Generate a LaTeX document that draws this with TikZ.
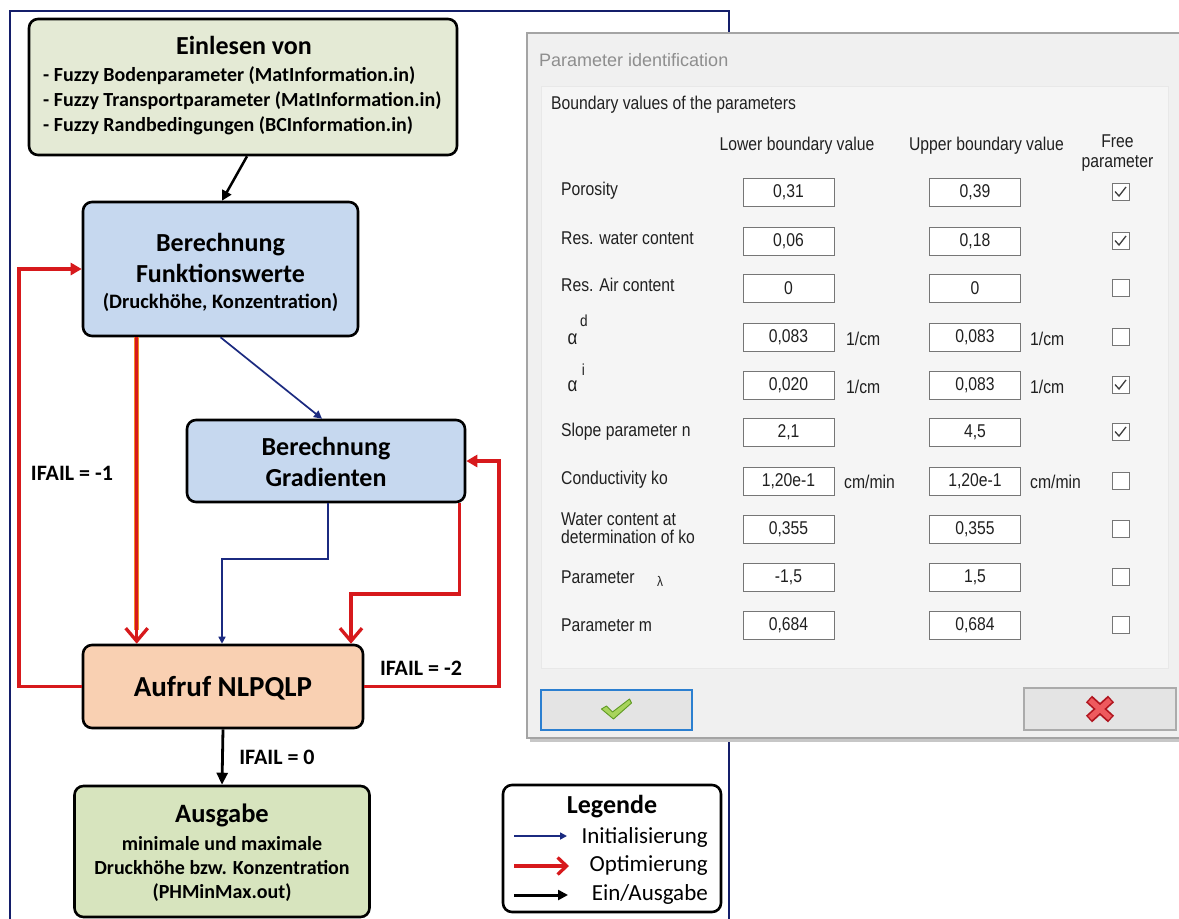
\documentclass[tikz,border=0pt]{standalone}
\usepackage{fontspec}
\setmainfont{Carlito}
\newfontfamily\dlgfont[FakeStretch=0.85]{Liberation Sans}
\newfontfamily\dlgtitlefont{Liberation Sans}
\usetikzlibrary{arrows.meta}
\newcommand{\dcomma}{,}
\newcommand{\setfs}[2]{\fontsize{#1}{#2}\selectfont}

\definecolor{navy}{HTML}{1B2A80}
\definecolor{framenavy}{HTML}{141E6A}
\definecolor{optred}{HTML}{D7191C}
\definecolor{optorange}{HTML}{F08A24}
\definecolor{inbox}{HTML}{E4EAD5}
\definecolor{outbox}{HTML}{D7E4BE}
\definecolor{calcbox}{HTML}{C6D8EF}
\definecolor{nlpbox}{HTML}{F9D0B2}
\definecolor{dlgbg}{HTML}{F0F0F0}
\definecolor{dlgpanel}{HTML}{F5F5F5}
\definecolor{dlgline}{HTML}{A4A4A4}
\definecolor{dlgtext}{HTML}{202020}
\definecolor{dlgtitle}{HTML}{8E8E8E}
\definecolor{fieldline}{HTML}{767676}
\definecolor{okblue}{HTML}{2B7FD0}
\definecolor{btnfill}{HTML}{E4E4E4}
\definecolor{btnline}{HTML}{ABABAB}
\definecolor{okgreen}{HTML}{A8D45C}
\definecolor{okgreendark}{HTML}{5E9A22}
\definecolor{xred}{HTML}{EE5A5E}
\definecolor{xreddark}{HTML}{B0141E}

\tikzset{
  flowbox/.style={draw=black, line width=2.6pt, rounded corners=9pt, inner sep=0pt},
  ftext/.style={inner sep=0pt, align=center, text=black},
  frameline/.style={draw=framenavy, line width=2pt},
  init/.style={draw=navy, line width=1.7pt, -{Triangle[length=8pt,width=8pt]}},
  opt/.style={draw=optred, line width=3.3pt},
  optdown/.style={opt, -{Straight Barb[length=13pt,width=22pt]}},
  optside/.style={opt, -{Triangle[length=11pt,width=12pt]}},
  optglow/.style={draw=optorange, line width=4.6pt},
  io/.style={draw=black, line width=2.8pt, -{Triangle[length=12pt,width=11pt]}},
  lbl/.style={inner sep=0pt, anchor=west, text=dlgtext, font=\dlgfont\setfs{18.5}{19}},
  hdr/.style={inner sep=0pt, align=center, text=dlgtext, font=\dlgfont\setfs{18.5}{20}},
  valbox/.style={draw=fieldline, line width=0.9pt, fill=white, minimum width=91pt,
    minimum height=28pt, inner sep=0pt, text=dlgtext, font=\dlgfont\setfs{18.5}{19}},
  unit/.style={inner sep=0pt, anchor=west, text=dlgtext, font=\dlgfont\setfs{18.5}{19}},
  chkbox/.style={draw=fieldline, line width=1pt, fill=white, minimum width=17pt,
    minimum height=17pt, inner sep=0pt},
  chkmark/.style={draw=black!75, line width=1.3pt},
}

\begin{document}
\begin{tikzpicture}[x=1pt,y=-1pt]
\useasboundingbox (0,0) rectangle (1179,919);
\fill[white] (0,0) rectangle (1179,919);

% ---------- flowchart frame ----------
\draw[frameline] (10,921) -- (10,11) -- (729,11) -- (729,921);

% ---------- flowchart boxes ----------
\node[flowbox, fill=inbox, minimum width=428pt, minimum height=136pt] (ein) at (243,87) {};
\node[ftext, font=\setfs{26}{30}\bfseries] (eintitle) at (244,45) {Einlesen von};
\node[ftext, align=left, anchor=west, font=\setfs{20}{25}\bfseries] (einlist) at (43,101)
  {- Fuzzy Bodenparameter (MatInformation.in)\\- Fuzzy Transportparameter (MatInformation.in)\\- Fuzzy Randbedingungen (BCInformation.in)};

\node[flowbox, fill=calcbox, minimum width=275pt, minimum height=134pt] (fkt) at (220.5,269) {};
\node[ftext, font=\setfs{26}{31}\bfseries] (fkttitle) at (220.5,258) {Berechnung\\Funktionswerte};
\node[ftext, font=\setfs{20.5}{24}\bfseries] (fktsub) at (220.5,302) {(Druckhöhe, Konzentration)};

\node[flowbox, fill=calcbox, minimum width=278pt, minimum height=82pt] (grad) at (326,461) {};
\node[ftext, font=\setfs{26}{31}\bfseries] (gradtext) at (326,462) {Berechnung\\Gradienten};

\node[flowbox, fill=nlpbox, minimum width=280pt, minimum height=83pt] (nlp) at (223,686.5) {};
\node[ftext, font=\setfs{29}{34}\bfseries] (nlptext) at (223,688) {Aufruf NLPQLP};

\node[flowbox, fill=outbox, minimum width=295pt, minimum height=131pt] (aus) at (222,851.5) {};
\node[ftext, font=\setfs{26.5}{30}\bfseries] (austitle) at (222,815) {Ausgabe};
\node[ftext, font=\setfs{20}{24}\bfseries] (austext) at (222,869)
  {minimale und maximale\\Druckhöhe bzw. Konzentration\\(PHMinMax.out)};

% ---------- labels on connectors ----------
\node[ftext, font=\setfs{22}{24}\bfseries] (fail1) at (72,473) {IFAIL = -1};
\node[ftext, font=\setfs{22}{24}\bfseries] (fail2) at (421,668) {IFAIL = -2};
\node[ftext, font=\setfs{22}{24}\bfseries] (fail0) at (277,757) {IFAIL = 0};

% ---------- connectors ----------
\draw[io, line width=2.5pt, -{Triangle[length=10pt,width=10pt]}] ([xshift=4pt]ein.south) -- ([xshift=1.5pt]fkt.north);
\draw[init] (fkt.south) -- ([xshift=-4pt]grad.north);

\coordinate (bj) at (222,559);
\draw[init, line width=1.5pt, -{Triangle[length=7pt,width=7pt]}] ([xshift=2pt]grad.south) |- (bj) -- (bj |- nlp.north);

\coordinate (fd) at ([xshift=55pt]fkt.south west);
\draw[optglow] (fd) -- ([yshift=14pt]fd |- nlp.north);
\draw[optdown] (fd) -- (fd |- nlp.north);

\coordinate (rj) at (351,594);
\draw[optdown] ([xshift=-7pt]grad.south east) |- (rj) -- (rj |- nlp.north);

\coordinate (lx) at (19,0);
\draw[optside] (nlp.west) -- (nlp.west -| lx) |- (fkt.west);

\coordinate (rx) at (499,0);
\draw[optside] (nlp.east) -- (nlp.east -| rx) |- (grad.east);

\draw[io] (nlp.south) -- (aus.north);

% ---------- legend ----------
\node[flowbox, fill=white, minimum width=218pt, minimum height=127pt] (leg) at (612,848.5) {};
\node[ftext, font=\setfs{26}{30}\bfseries] (legtitle) at (612,807) {Legende};
\node[ftext, anchor=east, font=\setfs{23}{26}] (leg1) at (708,837) {Initialisierung};
\node[ftext, anchor=east, font=\setfs{23}{26}] (leg2) at (708,866) {Optimierung};
\node[ftext, anchor=east, font=\setfs{23}{26}] (leg3) at (708,894) {Ein/Ausgabe};
\coordinate (la1) at (514,836); \coordinate (lb1) at (567,836);
\coordinate (la2) at (514,866); \coordinate (lb2) at (569,866);
\coordinate (la3) at (514,895); \coordinate (lb3) at (568,895);
\draw[init, line width=1.6pt, -{Triangle[length=7pt,width=7pt]}] (la1) -- (lb1);
\draw[opt, -{Straight Barb[length=9pt,width=17pt]}] (la2) -- (lb2);
\draw[io, line width=3pt, -{Triangle[length=10pt,width=10pt]}] (la3) -- (lb3);

% ---------- parameter dialog ----------
\fill[black!22] (530,738) rectangle (1179,742);
\filldraw[fill=dlgbg, draw=dlgline, line width=2pt] (527,33) rectangle (1185,738);
\filldraw[fill=dlgpanel, draw=black!9, line width=0.8pt] (541,86) rectangle (1168,668);

\node[inner sep=0pt, anchor=west, text=dlgtitle, font=\dlgtitlefont\setfs{18}{20}] (dtitle) at (539,60) {Parameter identification};
\node[lbl] (dgroup) at (551,105) {Boundary values of the parameters};

\node[hdr] (hlow) at (797,146) {Lower boundary value};
\node[hdr] (hup) at (986.5,146) {Upper boundary value};
\node[hdr] (hfree) at (1117.5,153) {Free\\parameter};

\foreach \i/\y/\lo/\up in {
  0/192/0\dcomma31/0\dcomma39,
  1/241/0\dcomma06/0\dcomma18,
  2/288/0/0,
  3/337/0\dcomma083/0\dcomma083,
  4/385/0\dcomma020/0\dcomma083,
  5/432/2\dcomma1/4\dcomma5,
  6/481/1\dcomma20e-1/1\dcomma20e-1,
  7/529/0\dcomma355/0\dcomma355,
  8/577/-1\dcomma5/1\dcomma5,
  9/625/0\dcomma684/0\dcomma684}{
  \node[valbox] (lo\i) at (788.5,\y) {\lo};
  \node[valbox] (up\i) at (975,\y) {\up};
  \node[chkbox] (cb\i) at (1120.5,\y) {};
}
\foreach \i in {0,1,4,5}{
  \draw[chkmark] ([xshift=-5.5pt,yshift=0.5pt]cb\i.center) -- ++(4,4.5) -- ++(7,-9);
}

% row labels
\node[lbl] (lb0) at (561,191) {Porosity};
\node[lbl] (lb1) at (561,238) {Res. water content};
\node[lbl] (lb2) at (561,285) {Res. Air content};
\node[inner sep=0pt, text=dlgtext, font=\dlgfont\setfs{20}{20}] (lb3) at (572.5,339) {α};
\node[inner sep=0pt, text=dlgtext, font=\dlgfont\setfs{16}{16}] (lb3s) at (584,321) {d};
\node[inner sep=0pt, text=dlgtext, font=\dlgfont\setfs{20}{20}] (lb4) at (572.5,386) {α};
\node[inner sep=0pt, text=dlgtext, font=\dlgfont\setfs{16}{16}] (lb4s) at (583.5,370) {i};
\node[lbl] (lb5) at (561,432) {Slope parameter n};
\node[lbl] (lb6) at (561,480) {Conductivity ko};
\node[lbl, align=left, font=\dlgfont\setfs{18.5}{18}] (lb7) at (561,528) {Water content at\\determination of ko};
\node[lbl] (lb8) at (561,577) {Parameter};
\node[inner sep=0pt, text=dlgtext, font=\dlgfont\setfs{14}{14}] (lb8s) at (660,581) {λ};
\node[lbl] (lb9) at (561,625) {Parameter m};

% units
\node[unit] (u3a) at (846,339) {1/cm};
\node[unit] (u3b) at (1030,339) {1/cm};
\node[unit] (u4a) at (846,387) {1/cm};
\node[unit] (u4b) at (1030,387) {1/cm};
\node[unit] (u6a) at (844,482) {cm/min};
\node[unit] (u6b) at (1030,482) {cm/min};

% buttons
\node[draw=okblue, line width=2.2pt, fill=btnfill, minimum width=151pt, minimum height=40pt, inner sep=0pt] (okbtn) at (616.5,710) {};
\begin{scope}[shift={(okbtn.center)}]
  \filldraw[fill=okgreen, draw=okgreendark, line width=0.9pt, line join=round]
    (-15,-1) -- (-10,-4) -- (-4,2) -- (13,-11) -- (15,-7) -- (-3,9) -- cycle;
\end{scope}
\node[draw=btnline, line width=1.5pt, fill=btnfill, minimum width=152pt, minimum height=42pt, inner sep=0pt] (nobtn) at (1100,709) {};
\begin{scope}[shift={(nobtn.center)}]
  \draw[xreddark, line width=9pt] (-11,-10) -- (11,10) (-11,10) -- (11,-10);
  \draw[xred, line width=5.5pt] (-10,-9) -- (10,9) (-10,9) -- (10,-9);
\end{scope}

\end{tikzpicture}
\end{document}
